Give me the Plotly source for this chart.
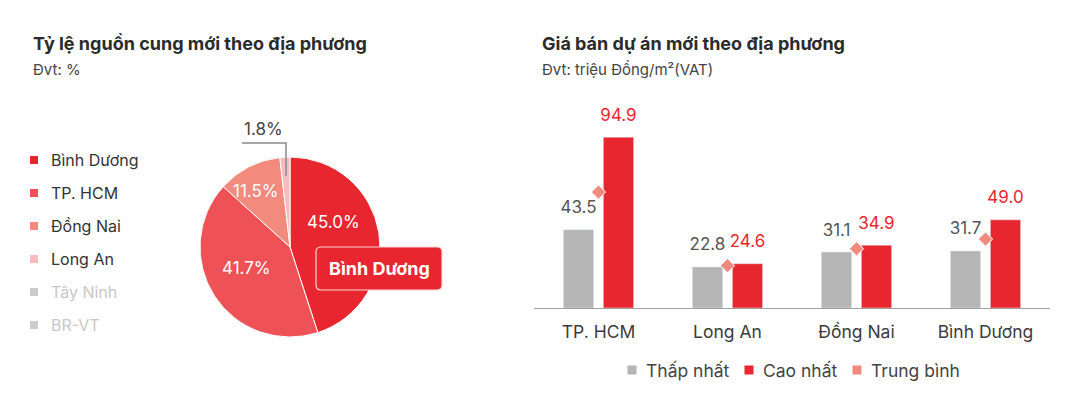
import plotly.graph_objects as go

# --- data ---
regions = ["Bình Dương", "TP. HCM", "Đồng Nai", "Long An", "Tây Ninh", "BR-VT"]
supply_share = [45.0, 41.7, 11.5, 1.8]  # Tây Ninh, BR-VT: not shown

price_cats = ["TP. HCM", "Long An", "Đồng Nai", "Bình Dương"]
price_min = [43.5, 22.8, 31.1, 31.7]
price_max = [94.9, 24.6, 34.9, 49.0]
price_avg = [64.4, 23.5, 32.9, 38.3]
price_series = ["Thấp nhất", "Cao nhất", "Trung bình"]

# --- style ---
# page body keeps its default 8px margin, so the figure is 16px smaller
OFF = 8
W, H = 1080 - 2 * OFF, 406 - 2 * OFF
FONT = "Inter"
RED = "#E8262F"
GRAY = "#B5B5B5"
SALMON = "#F08A7E"
pie_colors = ["#E8262F", "#EE5257", "#F28A7D", "#F5BBBE"]
off_color = "#CCCCCC"


def px(x):
    return (x - OFF) / W


def py(y):
    return 1 - (y - OFF) / H


fig = go.Figure()

# pie
fig.add_trace(go.Pie(
    labels=regions[:len(supply_share)],
    values=supply_share,
    sort=False,
    direction="clockwise",
    rotation=0,
    marker=dict(colors=pie_colors, line=dict(color="white", width=1)),
    textinfo="none",
    showlegend=False,
    domain=dict(x=[px(200), px(380)], y=[py(337), py(157)]),
    hoverinfo="label+value",
))

# bars (numeric x so labels can sit on each bar)
idx = list(range(len(price_cats)))
d, bw = 0.155, 0.235
x_min = [i - d for i in idx]
x_max = [i + d for i in idx]

fig.add_trace(go.Bar(x=x_min, y=price_min, width=bw, marker_color=GRAY,
                     name=price_series[0], showlegend=False))
fig.add_trace(go.Bar(x=x_max, y=price_max, width=bw, marker_color=RED,
                     name=price_series[1], showlegend=False))
fig.add_trace(go.Scatter(x=x_min, y=price_min, mode="markers+text",
                         marker=dict(size=18, opacity=0),
                         text=[f"{v:.1f}" for v in price_min], textposition="top center",
                         textfont=dict(family=FONT, size=17, color="#555555"),
                         showlegend=False, hoverinfo="skip", cliponaxis=False))
fig.add_trace(go.Scatter(x=x_max, y=price_max, mode="markers+text",
                         marker=dict(size=18, opacity=0),
                         text=[f"{v:.1f}" for v in price_max], textposition="top center",
                         textfont=dict(family=FONT, size=17, color=RED),
                         showlegend=False, hoverinfo="skip", cliponaxis=False))
fig.add_trace(go.Scatter(x=idx, y=price_avg, mode="markers", name=price_series[2],
                         marker=dict(symbol="diamond", size=11, color=SALMON,
                                     line=dict(color="white", width=1)),
                         showlegend=False, cliponaxis=False))

annotations = []
shapes = []


def label(x, y, text, size, color, anchor="center"):
    annotations.append(dict(x=px(x), y=py(y), xref="paper", yref="paper",
                            xanchor=anchor, yanchor="middle", showarrow=False, text=text,
                            font=dict(family=FONT, size=size, color=color)))


# titles
for x0, title, sub in [(31, "Tỷ lệ nguồn cung mới theo địa phương", "Đvt: %"),
                       (540, "Giá bán dự án mới theo địa phương", "Đvt: triệu Đồng/m²(VAT)")]:
    label(x0, 43, f"<b>{title}</b>", 18, "#2B2B2B", "left")
    label(x0, 70, sub, 15, "#444444", "left")

# left legend
for k, name in enumerate(regions):
    yc = 160 + 33 * k
    on = k < len(supply_share)
    col = pie_colors[k] if on else off_color
    shapes.append(dict(type="rect", xref="paper", yref="paper",
                       x0=px(30), x1=px(38), y0=py(yc + 4), y1=py(yc - 4),
                       fillcolor=col, line=dict(width=0)))
    label(49, yc, name, 16, "#333333" if on else "#C8C8C8", "left")

# pie slice labels
for (lx, ly), v in zip([(333, 222), (246, 268), (256, 191)], supply_share[:3]):
    label(lx, ly, f"{v:.1f}%", 17, "white")

# 1.8% callout
shapes.append(dict(type="path", xref="paper", yref="paper",
                   path=f"M {px(286)} {py(176)} L {px(286)} {py(143)} L {px(242)} {py(143)}",
                   line=dict(color="#8a8a8a", width=1.5)))
label(263, 129, f"{supply_share[3]:.1f}%", 17, "#444444")

# highlighted slice tag (rounded box)
bx0, bx1, by0, by1, r = 316, 442, 247, 290, 5
tag_path = (f"M {px(bx0 + r)} {py(by0)} L {px(bx1 - r)} {py(by0)} "
            f"Q {px(bx1)} {py(by0)} {px(bx1)} {py(by0 + r)} L {px(bx1)} {py(by1 - r)} "
            f"Q {px(bx1)} {py(by1)} {px(bx1 - r)} {py(by1)} L {px(bx0 + r)} {py(by1)} "
            f"Q {px(bx0)} {py(by1)} {px(bx0)} {py(by1 - r)} L {px(bx0)} {py(by0 + r)} "
            f"Q {px(bx0)} {py(by0)} {px(bx0 + r)} {py(by0)} Z")
shapes.append(dict(type="path", xref="paper", yref="paper", path=tag_path,
                   fillcolor=RED, line=dict(color="#F6D4D4", width=1.2)))
label(379, 268.5, f"<b>{regions[0]}</b>", 18, "white")

# right legend
leg_cols = [GRAY, RED, SALMON]
for name, col, xs in zip(price_series, leg_cols, [632, 749, 857]):
    shapes.append(dict(type="rect", xref="paper", yref="paper",
                       x0=px(xs - 4.5), x1=px(xs + 4.5), y0=py(374.5), y1=py(365.5),
                       fillcolor=col, line=dict(width=0)))
    label(xs + 12, 370, name, 17.5, "#444444", "left")

fig.update_layout(
    width=W, height=H,
    margin=dict(l=0, r=0, t=0, b=0),
    paper_bgcolor="white", plot_bgcolor="white",
    barmode="overlay",
    xaxis=dict(domain=[px(534), px(1050)], range=[-0.5, 3.5],
               tickvals=idx, ticktext=price_cats, showgrid=False, zeroline=False,
               showline=True, linecolor="#A0A0A0", linewidth=1,
               ticks="outside", ticklen=8, tickcolor="rgba(0,0,0,0)",
               tickfont=dict(family=FONT, size=17.5, color="#3C3C3C"), fixedrange=True),
    yaxis=dict(domain=[py(308), py(120)], range=[0, 188 / 1.8], visible=False,
               fixedrange=True),
    annotations=annotations,
    shapes=shapes,
    font=dict(family=FONT),
)

fig.write_html("out.html")
